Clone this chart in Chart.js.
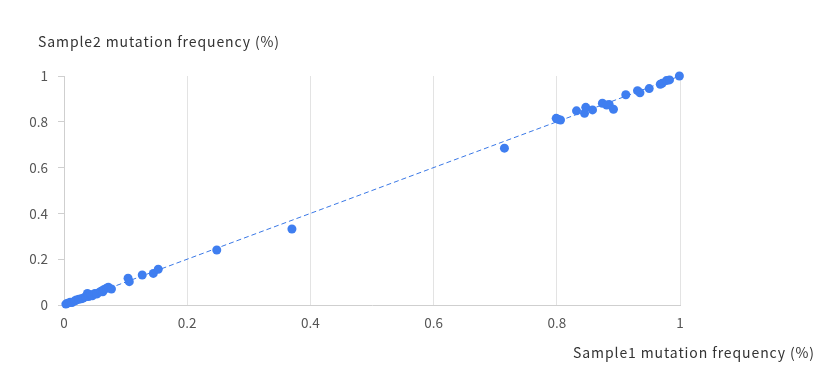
<!DOCTYPE html>
<html>
<head>
<meta charset="utf-8">
<script src="https://cdn.jsdelivr.net/npm/chart.js@4/dist/chart.umd.min.js"></script>
<style>
html,body{margin:0;padding:0;background:#fff;}
#wrap{width:832px;height:382px;position:relative;}
</style>
</head>
<body>
<div id="wrap"><canvas id="c" width="832" height="382"></canvas></div>
<script>
const xTitle = "Sample1 mutation frequency (%)";
const yTitle = "Sample2 mutation frequency (%)";
const sample1 = [0.003,0.006,0.010,0.013,0.017,0.020,0.024,0.028,0.031,0.035,0.038,0.040,0.043,0.046,0.050,0.053,0.057,0.060,0.063,0.065,0.069,0.072,0.077,
  0.104,0.106,0.127,0.145,0.153,0.248,0.370,0.715,
  0.799,0.802,0.806,0.832,0.845,0.847,0.858,0.874,0.881,0.885,0.892,0.912,0.931,0.935,0.950,0.968,0.971,0.978,0.983,0.999];
const sample2 = [0.004,0.008,0.012,0.011,0.017,0.022,0.025,0.027,0.030,0.036,0.050,0.037,0.045,0.040,0.050,0.048,0.055,0.060,0.058,0.068,0.073,0.078,0.070,
  0.117,0.102,0.131,0.138,0.156,0.240,0.332,0.685,
  0.815,0.811,0.808,0.848,0.837,0.863,0.852,0.881,0.873,0.876,0.855,0.918,0.936,0.927,0.945,0.964,0.968,0.980,0.983,1.000];
const refLine = [0, 1];
const xTicks = [0, 0.2, 0.4, 0.6, 0.8, 1];

const points = sample1.map((v,i)=>({x:v,y:sample2[i]}));
const linePts = refLine.map(v=>({x:v,y:v}));
const FONT = "'Noto Sans CJK SC', 'Noto Sans', sans-serif";

const titlePlugin = {
  id:'axisTitles',
  afterDraw(chart){
    const ctx = chart.ctx, a = chart.chartArea;
    ctx.save();
    ctx.font = "14px " + FONT;
    try { ctx.letterSpacing = '0.9px'; } catch(e) {}
    ctx.fillStyle = '#333';
    ctx.textBaseline = 'middle';
    ctx.textAlign = 'left';
    ctx.fillText(yTitle, a.left - 26, a.top - 34);
    ctx.textAlign = 'right';
    ctx.fillText(xTitle, chart.width - 17, a.bottom + 48);
    ctx.restore();
  }
};

new Chart(document.getElementById('c'), {
  type:'scatter',
  data:{
    datasets:[
      {type:'scatter', data:points, backgroundColor:'#3f7ef0', borderColor:'#3f7ef0', pointRadius:4.5, pointHoverRadius:4.5, borderWidth:0, order:1, clip:false},
      {type:'line', data:linePts, borderColor:'#3a78e6', borderWidth:1, borderDash:[5,3], pointRadius:0, fill:false, order:2}
    ]
  },
  options:{
    responsive:false,
    animation:false,
    layout:{padding:{left:0, top:76, right:152, bottom:47}},
    plugins:{legend:{display:false}, tooltip:{enabled:false}, title:{display:false}},
    scales:{
      x:{
        type:'linear', min:0, max:1,
        afterBuildTicks(s){ s.ticks = xTicks.map(v=>({value:v})); },
        afterFit(s){ s.height = 30; },
        grid:{color:'#e3e3e3', drawTicks:false, lineWidth:1},
        border:{color:'#cfcfcf', width:1},
        ticks:{padding:10, color:'#555', font:{family:FONT, size:13.5}, callback:v=>String(v)}
      },
      y:{
        type:'linear', min:0, max:1,
        afterBuildTicks(s){ s.ticks = xTicks.map(v=>({value:v})); },
        afterFit(s){ s.width = 64; },
        grid:{drawOnChartArea:false, drawTicks:true, tickLength:6, color:'#cfcfcf'},
        border:{color:'#cfcfcf', width:1},
        ticks:{padding:10, color:'#555', font:{family:FONT, size:13.5}, callback:v=>String(v)}
      }
    }
  },
  plugins:[titlePlugin]
});
</script>
</body>
</html>
